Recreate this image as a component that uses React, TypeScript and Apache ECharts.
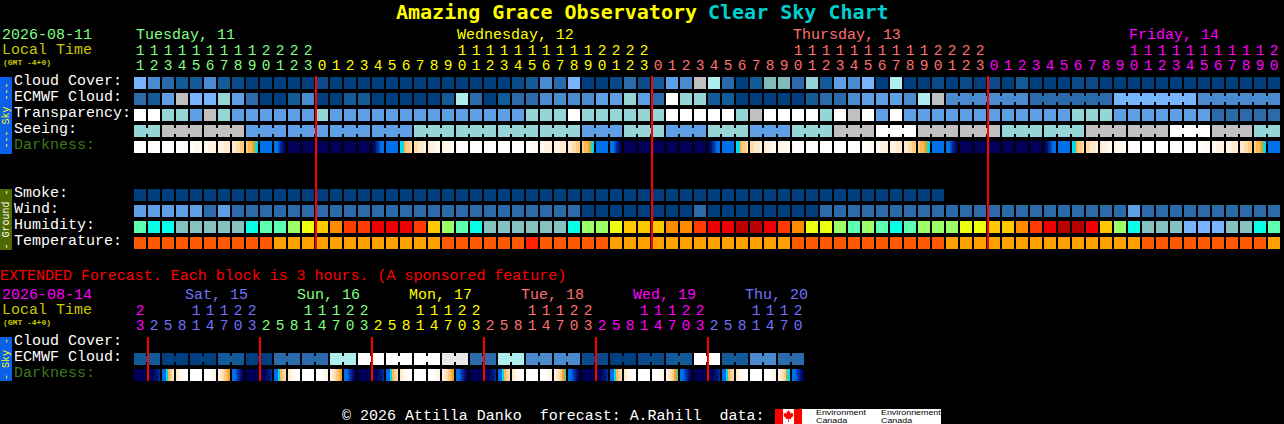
import React, { useEffect, useRef } from "react";
import * as echarts from "echarts";

const HOURLY_ONES = "1234567890123012345678901234567890123012345678901234567890123012345678901234567890".split("");
const HOURLY_TENS = ["1","1","1","1","1","1","1","1","1","2","2","2","2",
  " "," "," "," "," "," "," "," "," "," ","1","1","1","1","1","1","1","1","1","1","2","2","2","2",
  " "," "," "," "," "," "," "," "," "," ","1","1","1","1","1","1","1","1","1","1","2","2","2","2",
  " "," "," "," "," "," "," "," "," "," ","1","1","1","1","1","1","1","1","1","1","2"];
const EXT_ONES = "325814703258147032581470325814703258147032581470".split("");
const EXT_TENS = ["2"," "," "," ","1","1","1","2","2"," "," "," ","1","1","1","2","2"," "," "," ","1","1","1","2","2"," "," "," ","1","1","1","2","2"," "," "," ","1","1","1","2","2"," "," "," ","1","1","1","2"];

const HOURLY_ROWS = ["Cloud Cover:", "ECMWF Cloud:", "Transparency:", "Seeing:", "Darkness:", " ", "  ", "Smoke:", "Wind:", "Humidity:", "Temperature:"];
const EXT_ROWS = ["Cloud Cover:", "ECMWF Cloud:", "Darkness:"];

const CLOUD_COVER = [5,3,2,1,1,3,1,0.5,0,0,0,0,0, 0.5,0,0,0,0,0,0,0,0,0,0,0,0,0, 0.5,1,3,2,5,0,0,0.5,2,0.5,1, 4,3,8,7,2,0,1,5.5,5.5,2,6,1,4,3, 5,0,7,0,0,0.5,0,0.5,0,0.5,0,1,0,0,0,0.5,0.5,0, 0,0,0,0,0,0,0,0,0,0,0,0];
const ECMWF_CLOUD = [2,1,4,8,5,5,6,4,2,0,0,1,3, 0,0,1,1,0,0,0,0,0, 1,7,2,0,1,2,2,3,3,3,3,4,4,6,4,2,10,6,6,1,1,0,0,0,0,0,1,2,2,3,4,4,4,3,7,8, 3,3,3,3,3,3, 2,2,2,2,2,2, 5,5,5,5,5,5, 3,3,3,3,3,3];
const ECMWF_BLOCK_STARTS = [58, 64, 70, 76];
const TRANSPARENCY = [10,10,6,6,4,8,6,4,4,4,4,4,4, 6, 4,4,4,4,4,4,4,4,4,4,4,4,4,4, 6,6,6, 10, 6,6,6,6,6,6, 10,10,10,10,10, 6, 8, 10,10,10,10, 6, 10, 8, 10, 4, 10, 4,4,4,4,4,4,4,4,4,4,4,4, 6,6,6, 4,4,4,4,4,4,4, 2,2,2,2,2];
const SEEING = [6,6, 8,8,8,8,8,8, 4,4,4,4,4,4,4,4,4,4,4,4, 6,6,6,6,6,6,6,6,6,6,6,6, 4,4,4, 6,6,6, 4,4,4, 6,6,6, 4,4,4, 6,6,6, 8,8,8, 10,10,10, 8,8,8,8,8,8, 6,6,6,6,6,6, 8,8,8,8,8,8, 10,10,10, 8,8,8, 6,6];
const SEEING_BLOCK_STARTS = [0,2,5,8,11,14,17,20,23,26,29,32,35,38,41,44,47,50,53,56,59,62,65,68,71,74,77,80];
const DARKNESS = [
  "000000","000000","000000","000000","001111","112222","222333","334455","566789","bbbbbb","bbcdef",
  "ffffff","ffffff","ffffff","ffffff","ffffff","ffffff","fedcbb","bbbbbb","996554","443332","322211","211110","100000",
  "000000","000000","000000","000000","000111","112222","222333","334455","566789","bbbbbb","bbcdef",
  "ffffff","ffffff","ffffff","ffffff","ffffff","ffffff","fedcbb","bbbbbb","996554","443332","322211","211110","100000",
  "000000","000000","000000","000000","000111","112222","222333","334455","566789","bbbbbb","bbcdef",
  "ffffff","ffffff","ffffff","ffffff","ffffff","ffffff","fedcbb","bbbbbb","996554","443332","322211","211110","100000",
  "000000","000000","000000","000000","000111","112222","222333","334455","566789","bbbbbb",
];
const SMOKE = [0,0,0,0,0,0,0,0,0,0,0,0,0,0,0,0,0,0,0,0,0,0,0,0,0,0,0,0,0,0,0,0,0,0,0,0,0,0,0,0,0,0,0,0,0,0,0,0,0,0,0,0,0,0,0,0,0,0];
const WIND = [4,4,4,4,4,2,4, 2,2,2,2,2,2,2,2,2,2,2,2,2,2, 2,2,2,2,2,2,2,2,2,2,2, 0,0,0,0,0,0,0,0, 2, 0,0,0,0,0,0,0,0, 2,2,2, 2,2,2,2,2,2,2,2,2,2,2,2,2,2,2,2,2,2,2, 4, 2,2,2,2,2,2,2,2,2,2];
const HUMIDITY = [3,2,2,1,1,1,1,1,2,3,3,4,5,6,7,8,8,9,9,9,8, 6,4,3,2,1,1,1,1,1,1,2,4,4,5,6,6,6,7,7,8,9,9,10,10,9,8,7,5,5,4,3, 4,3,2,3,4,4,4,5,5,6,6,7,8,9,10,10,9,6,4,2,1,1,1,0,0,0,1,1,2,3];
const TEMPERATURE = [0,0,0,0,0,0,0,0,0,0, 1,1,1,1,1,1,1,1,1,1,1,1, 0,0,0,0,0,0, 2, 0,0,0,0,0, 1,1,1,1,1,1,1,1,1,1,1,1,1, 0,0,0,0,0, 0,0,0,0,0,0, 1,1,1,1,1,1,1,1,1,1,1,1,1,1, 0,0,0,0,0,0,0,0,0, 1];
const MIDNIGHTS = [13, 37, 61];

const EXT_ECMWF = [1,1,0,0,0,0,1,1,0,0,2,2,2,2,7,7,10,10,10,10,10,10,9,9,2,2,7,7,3,3,3,3,0.5,0.5,0,0,0.5,0.5,1,1,10,10,1,1,3,3,2,2];
const EXT_BLOCK_STARTS = [0,2,4,6,8,10,12,14,16,18,20,22,24,26,28,30,32,34,36,38,40,42,44,46];
const EXT_DARKNESS = [
  "ffffff","fffeed","bb9653","321100","000000","000112","234567","bbcdef",
  "ffffff","fffeed","bb9654","321100","000000","000112","234567","bbcdef",
  "ffffff","fffeed","bb9654","321100","000000","000112","234567","bbcdef",
  "ffffff","fffeed","bb9654","321100","000000","000112","234578","bbcdef",
  "ffffff","fffeed","bb9654","321100","000000","000112","234578","bbcdef",
  "ffffff","fffeed","bb9654","321100","000000","000112","234589","bbcdef",
];
const EXT_MIDNIGHTS = [1, 9, 17, 25, 33, 41];

const GREEN = "#80ff80", YELLOW = "#ffff00", SALMON = "#ff7070", MAGENTA = "#ff00ff", BLUE = "#7070ff";
const HOURLY_DAY_SPANS: [number, string][] = [[13, GREEN], [37, YELLOW], [61, SALMON], [82, MAGENTA]];
const EXT_DAY_SPANS: [number, string][] = [[1, MAGENTA], [9, BLUE], [17, GREEN], [25, YELLOW], [33, SALMON], [41, MAGENTA], [48, BLUE]];

const CLOUD_COLORS: Record<string, string> = {
  "0": "#003f7f", "0.5": "#0a4a8a", "1": "#135a98", "2": "#2b6bac", "3": "#4a8bd0", "4": "#5f9fe6", "5": "#77b5fe",
  "5.5": "#80bcbc", "6": "#95d5d5", "7": "#aeeeee", "8": "#c0c0c0", "9": "#e8e8e8", "10": "#ffffff",
};
const HUMIDITY_COLORS = ["#77b5fe", "#85c1c1", "#08ffe9", "#5dffb0", "#9bff67", "#ebff0f", "#ffc800", "#ff8a00", "#ff3a00", "#ee0000", "#b80000"];
const TEMPERATURE_COLORS = ["#ff5a00", "#ffa000", "#ff2000"];
const DARKNESS_COLORS: Record<string, string> = {
  "0": "#ffffff", "1": "#fff9f0", "2": "#fff2e0", "3": "#ffe9cc", "4": "#ffdcaa", "5": "#ffcb85", "6": "#ffb84d", "7": "#f0a030",
  "8": "#6fc080", "9": "#00d8f0", a: "#00a0f0", b: "#0070e8", c: "#0048c0", d: "#002a98", e: "#001270", f: "#000058",
};

const MONO = '"Liberation Mono"';
const TITLE_FONT = '"DejaVu Sans Mono"';

const spanColor = (spans: [number, string][]) => (_v: any, i: number) => {
  for (const [end, color] of spans) if (i < end) return color;
  return "#fff";
};

function cellSeries(name: string, grid: number, row: number, values: number[], colorOf: (v: number) => string, blockStarts: number[] = []) {
  return {
    type: "custom", name, xAxisIndex: grid * 2, yAxisIndex: grid, clip: false, z: 2,
    encode: { x: 0, y: 1 },
    data: values.map((_, i) => [i, row]),
    renderItem: (params: any, api: any) => {
      const i = params.dataIndex;
      const c = api.coord([api.value(0), api.value(1)]);
      const fill = colorOf(values[i]);
      const children: any[] = [{ type: "rect", shape: { x: c[0] - 6, y: c[1] - 6, width: 12, height: 12 }, style: { fill } }];
      const joined = blockStarts.length > 0 && i >= blockStarts[0] && i + 1 < values.length && !blockStarts.includes(i + 1);
      if (joined) children.push({ type: "rect", shape: { x: c[0] + 6, y: c[1] - 3, width: 2, height: 6 }, style: { fill } });
      return { type: "group", children };
    },
  };
}

function darknessSeries(grid: number, row: number, cells: string[]) {
  return {
    type: "custom", name: "Darkness", xAxisIndex: grid * 2, yAxisIndex: grid, clip: false, z: 2,
    encode: { x: 0, y: 1 },
    data: cells.map((_, i) => [i, row]),
    renderItem: (params: any, api: any) => {
      const c = api.coord([api.value(0), api.value(1)]);
      const strips = cells[params.dataIndex].split("");
      return {
        type: "group",
        children: strips.map((s, k) => ({
          type: "rect",
          shape: { x: c[0] - 6 + k * 2, y: c[1] - 6, width: 2, height: 12 },
          style: { fill: DARKNESS_COLORS[s] },
        })),
      };
    },
  };
}

function midnightSeries(grid: number, lastRow: number, cols: number[], inset: number) {
  return {
    type: "custom", name: "Midnight", xAxisIndex: grid * 2, yAxisIndex: grid, clip: false, z: 5,
    encode: { x: 0 },
    data: cols.map((col) => [col, 0]),
    renderItem: (_p: any, api: any) => {
      const top = api.coord([api.value(0), 0]);
      const bottom = api.coord([api.value(0), lastRow]);
      return {
        type: "rect",
        shape: { x: top[0] - 7, y: top[1] - inset, width: 2, height: bottom[1] - top[1] + inset + 6 },
        style: { fill: "#ff0000" },
      };
    },
  };
}

const hourAxis = (grid: number, data: string[], spans: [number, string][], offset: number) => ({
  type: "category", gridIndex: grid, position: "top", offset, data, boundaryGap: true,
  axisLine: { show: false }, axisTick: { show: false }, splitLine: { show: false },
  axisLabel: { show: true, interval: 0, margin: 2, fontFamily: MONO, fontSize: 14.5, color: spanColor(spans), hideOverlap: false },
});

const rowAxis = (grid: number, rows: string[]) => ({
  type: "category", gridIndex: grid, inverse: true, data: rows,
  axisLine: { show: false }, axisTick: { show: false }, splitLine: { show: false },
  axisLabel: {
    show: true, interval: 0, margin: 119, align: "left", fontFamily: MONO, fontSize: 15,
    formatter: (v: string) => (v.trim() === "" ? v : `{${v === "Darkness:" ? "dim" : "lit"}|${v}}`),
    rich: {
      lit: { color: "#ffffff", fontFamily: MONO, fontSize: 15, padding: [0, 0, 3, 0] },
      dim: { color: "#3a7a1a", fontFamily: MONO, fontSize: 15, padding: [0, 0, 3, 0] },
    },
  },
});

const HEAD_SCALE = 9 / 8.7;
const T = (text: string, x: number, y: number, fill: string, size = 14.5, extra: any = {}) => ({
  type: "text", x, y, silent: true, z: 10,
  rotation: extra.rotation || 0,
  scaleX: extra.scaleX || (size === 14.5 ? HEAD_SCALE : 1),
  style: {
    text, fill, fontFamily: extra.family || MONO, fontSize: size, fontWeight: extra.bold ? "bold" : "normal",
    textAlign: extra.align || "left", textVerticalAlign: "middle",
  },
});
const R = (x: number, y: number, w: number, h: number, fill: string) => ({
  type: "rect", z: 9, silent: true, shape: { x, y, width: w, height: h }, style: { fill },
});

const LEAF = [[0,-6],[1,-4],[2,-5],[1.6,-2],[3,-3.4],[3.4,-2.4],[5,-2.8],[4.4,-0.8],[5.2,-0.2],[2.4,2],[2.8,3.2],[0.4,2.8],[0.4,6],[-0.4,6],[-0.4,2.8],[-2.8,3.2],[-2.4,2],[-5.2,-0.2],[-4.4,-0.8],[-5,-2.8],[-3.4,-2.4],[-3,-3.4],[-1.6,-2],[-2,-5],[-1,-4]];
const SANS = { family: '"Liberation Sans"', scaleX: 1.27 };

const GRAPHICS = [
  T("Amazing Grace Observatory", 396, 12, "#ffff00", 20, { bold: true, family: TITLE_FONT }),
  T("Clear Sky Chart", 708, 12, "#00cfd0", 20, { bold: true, family: TITLE_FONT }),
  T("2026-08-11", 2, 35, GREEN),
  T("Local Time", 2, 50, "#c8c800"),
  T("(GMT -4+0)", 3, 62, "#c8c800", 8, { bold: true }),
  T("Tuesday, 11", 136, 35, GREEN),
  T("Wednesday, 12", 457, 35, YELLOW),
  T("Thursday, 13", 793, 35, SALMON),
  T("Friday, 14", 1129, 35, MAGENTA),
  R(0, 77, 12, 77, "#0a60e8"),
  T("--- Sky ---", 6, 115.5, "#ffff00", 10, { rotation: Math.PI / 2, align: "center" }),
  R(0, 189, 12, 61, "#4f6a00"),
  T("- Ground -", 6, 219.5, "#ffffff", 10, { rotation: Math.PI / 2, align: "center" }),
  T("EXTENDED Forecast. Each block is 3 hours. (A sponsored feature)", 0, 276, "#ff0000"),
  T("2026-08-14", 2, 295, MAGENTA),
  T("Local Time", 2, 310, "#c8c800"),
  T("(GMT -4+0)", 3, 322, "#c8c800", 8, { bold: true }),
  T("Sat, 15", 185, 295, BLUE),
  T("Sun, 16", 297, 295, GREEN),
  T("Mon, 17", 409, 295, YELLOW),
  T("Tue, 18", 521, 295, SALMON),
  T("Wed, 19", 633, 295, MAGENTA),
  T("Thu, 20", 745, 295, BLUE),
  R(0, 337, 12, 44, "#0a60e8"),
  T("- Sky -", 6, 359, "#ffff00", 10, { rotation: Math.PI / 2, align: "center" }),
  T("© 2026 Attilla Danko  forecast: A.Rahill  data:", 342, 416, "#ffffff"),
  R(775, 409, 166, 15, "#ffffff"),
  R(775, 409, 8, 15, "#ff0000"),
  R(794, 409, 8, 15, "#ff0000"),
  { type: "polygon", z: 10, silent: true, shape: { points: LEAF.map(([x, y]) => [788.5 + x, 416 + y]) }, style: { fill: "#ff0000" } },
  T("Environment", 816, 413, "#000000", 7, SANS),
  T("Canada", 816, 420.5, "#000000", 7, SANS),
  T("Environnement", 881, 413, "#000000", 7, SANS),
  T("Canada", 881, 420.5, "#000000", 7, SANS),
];

export default function App() {
  const ref = useRef<HTMLDivElement>(null);
  useEffect(() => {
    document.body.style.margin = "0";
    document.body.style.background = "#000";
    const chart = echarts.init(ref.current!, undefined, { renderer: "svg" });
    const cloud = (v: number) => CLOUD_COLORS[String(v)];
    chart.setOption({
      animation: false,
      backgroundColor: "#000000",
      tooltip: { show: false },
      legend: { show: false },
      grid: [
        { left: 133, top: 75, width: 1148, height: 176 },
        { left: 133, top: 335, width: 672, height: 48 },
      ],
      xAxis: [
        hourAxis(0, HOURLY_ONES, HOURLY_DAY_SPANS, 0),
        hourAxis(0, HOURLY_TENS, HOURLY_DAY_SPANS, 15),
        hourAxis(1, EXT_ONES, EXT_DAY_SPANS, 0),
        hourAxis(1, EXT_TENS, EXT_DAY_SPANS, 15),
      ],
      yAxis: [rowAxis(0, HOURLY_ROWS), rowAxis(1, EXT_ROWS)],
      series: [
        cellSeries("Cloud Cover", 0, 0, CLOUD_COVER, cloud),
        cellSeries("ECMWF Cloud", 0, 1, ECMWF_CLOUD, cloud, ECMWF_BLOCK_STARTS),
        cellSeries("Transparency", 0, 2, TRANSPARENCY, cloud),
        cellSeries("Seeing", 0, 3, SEEING, cloud, SEEING_BLOCK_STARTS),
        darknessSeries(0, 4, DARKNESS),
        cellSeries("Smoke", 0, 7, SMOKE, cloud),
        cellSeries("Wind", 0, 8, WIND, cloud),
        cellSeries("Humidity", 0, 9, HUMIDITY, (v) => HUMIDITY_COLORS[v]),
        cellSeries("Temperature", 0, 10, TEMPERATURE, (v) => TEMPERATURE_COLORS[v]),
        midnightSeries(0, 10, MIDNIGHTS, 7),
        cellSeries("Extended ECMWF Cloud", 1, 1, EXT_ECMWF, cloud, EXT_BLOCK_STARTS),
        darknessSeries(1, 2, EXT_DARKNESS),
        midnightSeries(1, 2, EXT_MIDNIGHTS, 6),
      ],
      graphic: GRAPHICS,
    });
    return () => chart.dispose();
  }, []);
  return <div ref={ref} style={{ width: 1284, height: 424, overflow: "hidden" }} />;
}
